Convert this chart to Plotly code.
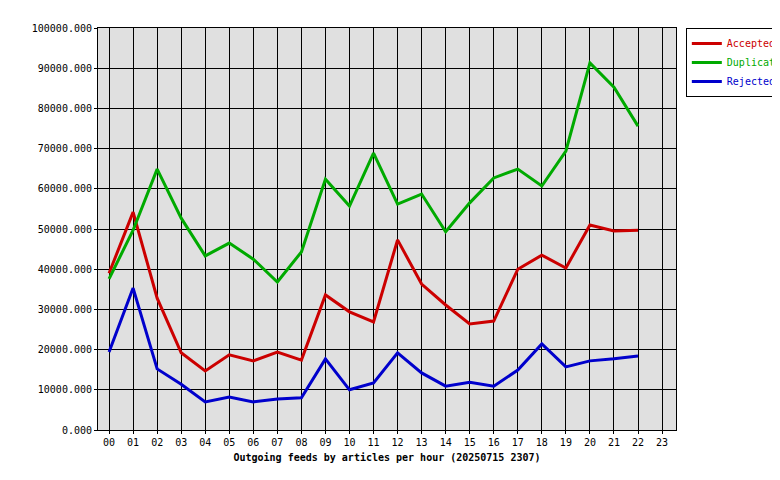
import plotly.graph_objects as go

hours = [f"{h:02d}" for h in range(24)]
accepted = [39000, 54200, 32800, 19200, 14700, 18700, 17200, 19400, 17400, 33600, 29400, 26900,
            47300, 36300, 31100, 26400, 27100, 40000, 43500, 40300, 51000, 49500, 49700]
duplicates = [37600, 49700, 64900, 52700, 43300, 46500, 42500, 36800, 44300, 62400, 55700, 68900,
              56200, 58700, 49300, 56500, 62700, 64900, 60700, 69400, 91300, 85300, 75600]
rejected = [19400, 35300, 15200, 11400, 7000, 8200, 7000, 7700, 8000, 17700, 10000, 11700,
            19200, 14200, 10900, 11900, 10900, 14900, 21400, 15700, 17200, 17700, 18400]
yticks = list(range(0, 100001, 10000))

fig = go.Figure()
for name, vals, col in [("Accepted", accepted, "#cc0000"),
                        ("Duplicates", duplicates, "#00aa00"),
                        ("Rejected", rejected, "#0000cc")]:
    fig.add_trace(go.Scatter(x=list(range(len(vals))), y=vals,
                             name=f"<span style='color:{col}'>{name}</span>", mode="lines",
                             line=dict(color=col, width=3)))

font = dict(family="DejaVu Sans Mono", size=10, color="black")
fig.update_layout(
    width=780, height=480, paper_bgcolor="white", plot_bgcolor="#e0e0e0",
    margin=dict(l=90, r=112, t=20, b=58, autoexpand=False), font=font,
    xaxis=dict(range=[-0.46, 23.58], tickvals=list(range(24)), ticktext=hours, automargin=False,
               showgrid=True, gridcolor="black", gridwidth=1, showline=True, linecolor="black",
               mirror=True, ticks="outside", ticklen=3, tickcolor="black", zeroline=False,
               title=dict(text="<b>Outgoing feeds by articles per hour (20250715 2307)</b>",
                          font=font, standoff=6)),
    yaxis=dict(range=[0, 100000], tickvals=yticks, ticktext=[f"{v}.000" for v in yticks],
               automargin=False,
               showgrid=True, gridcolor="black", gridwidth=1, showline=True, linecolor="black",
               mirror=True, ticks="outside", ticklen=3, tickcolor="black", zeroline=False),
    legend=dict(x=1.017, y=1, xanchor="left", yanchor="top", bordercolor="black", borderwidth=1,
                bgcolor="white", font=dict(family="DejaVu Sans Mono", size=10),
                itemwidth=30, tracegroupgap=0),
)
fig.write_html("out.html")
